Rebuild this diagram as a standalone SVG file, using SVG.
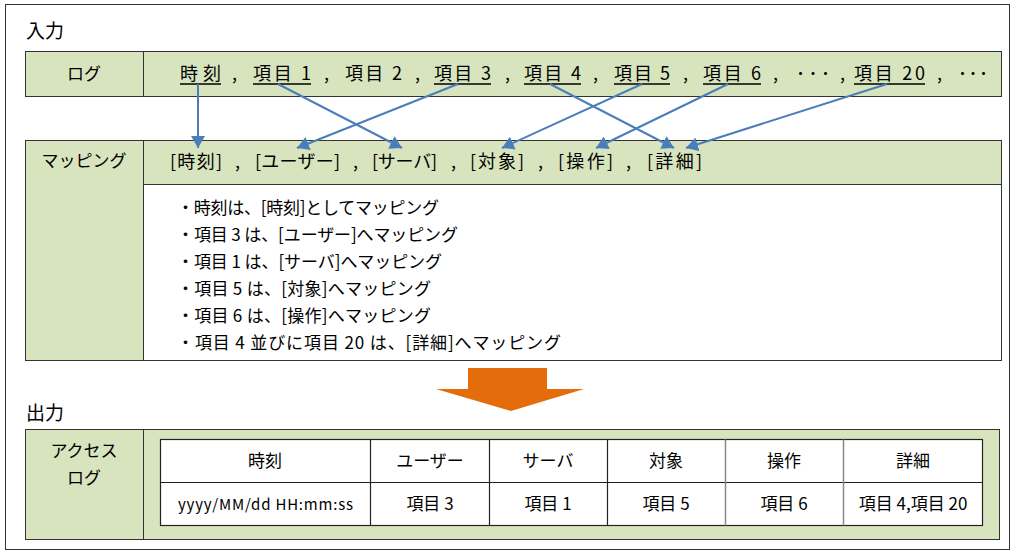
<svg xmlns="http://www.w3.org/2000/svg" width="1027" height="555" viewBox="0 0 1027 555">
<style>
text{font-family:"Noto Sans CJK JP","Liberation Sans",sans-serif;fill:#000;font-size:17px}
.g{fill:#d7e4bd;stroke:#333;stroke-width:1}
.w{fill:#fff;stroke:#333;stroke-width:1}
.c{text-anchor:middle}
.h{font-size:19px}
.b{font-size:18px}
.ul{stroke:#000;stroke-width:1.3}
.con{stroke:#4a7ebb;stroke-width:2;fill:none;marker-end:url(#ah)}
.tb{fill:#fff;stroke:#222;stroke-width:1.2}
.tl{stroke:#222;stroke-width:1.2}
.tl2{stroke:#888;stroke-width:1.5}
</style>
<defs>
<marker id="ah" markerUnits="userSpaceOnUse" markerWidth="16" markerHeight="14" refX="12" refY="7" orient="auto">
<path d="M0,0 L12,7 L0,14 Z" fill="#4a7ebb"/>
</marker>
</defs>
<rect x="0" y="0" width="1027" height="555" fill="#fff"/>
<rect x="5.5" y="4.5" width="1004" height="545" fill="#fff" stroke="#333" stroke-width="1"/>
<text id="input-label" x="26" y="38" class="h">入力</text>
<g id="log">
<rect x="25.5" y="51.5" width="976" height="45" class="g"/>
<line x1="143.5" y1="51.5" x2="143.5" y2="96.5" stroke="#333"/>
<text x="84" y="80" class="c">ログ</text>
<text x="180" y="80" class="b" textLength="41">時刻</text>
<text x="232" y="80" class="b">,</text>
<text x="253" y="80" class="b" textLength="58">項目 1</text>
<text x="324" y="80" class="b">,</text>
<text x="345" y="80" class="b" textLength="57">項目 2</text>
<text x="415" y="80" class="b">,</text>
<text x="434" y="80" class="b" textLength="57">項目 3</text>
<text x="505" y="80" class="b">,</text>
<text x="524" y="80" class="b" textLength="57">項目 4</text>
<text x="593" y="80" class="b">,</text>
<text x="614" y="80" class="b" textLength="56">項目 5</text>
<text x="683" y="80" class="b">,</text>
<text x="703" y="80" class="b" textLength="58">項目 6</text>
<text x="773" y="80" class="b">,</text>
<text x="796" y="80" class="b" textLength="34">･･･</text>
<text x="840" y="80" class="b">,</text>
<text x="854" y="80" class="b" textLength="71">項目 20</text>
<text x="937" y="80" class="b">,</text>
<text x="958" y="80" class="b" textLength="30">･･･</text>
<line x1="180" y1="84" x2="221" y2="84" class="ul"/>
<line x1="253" y1="84" x2="311" y2="84" class="ul"/>
<line x1="434" y1="84" x2="491" y2="84" class="ul"/>
<line x1="524" y1="84" x2="581" y2="84" class="ul"/>
<line x1="614" y1="84" x2="670" y2="84" class="ul"/>
<line x1="703" y1="84" x2="761" y2="84" class="ul"/>
<line x1="854" y1="84" x2="925" y2="84" class="ul"/>
</g>
<g id="mapping">
<rect x="25.5" y="140.5" width="118" height="220" class="g"/>
<rect x="143.5" y="140.5" width="858" height="44" class="g"/>
<rect x="143.5" y="184.5" width="858" height="176" class="w"/>
<text x="84" y="167" class="c">マッピング</text>
<text x="170" y="168" class="b" textLength="52">[時刻]</text>
<text x="235" y="168" class="b">,</text>
<text x="255" y="168" class="b" textLength="85">[ユーザー]</text>
<text x="353" y="168" class="b">,</text>
<text x="372" y="168" class="b" textLength="65">[サーバ]</text>
<text x="451" y="168" class="b">,</text>
<text x="470" y="168" class="b" textLength="54">[対象]</text>
<text x="538" y="168" class="b">,</text>
<text x="558" y="168" class="b" textLength="55">[操作]</text>
<text x="626" y="168" class="b">,</text>
<text x="647" y="168" class="b" textLength="55">[詳細]</text>
<text x="177" y="214" textLength="262">・時刻は、[時刻]としてマッピング</text>
<text x="177" y="241" textLength="281">・項目 3 は、[ユーザー]へマッピング</text>
<text x="177" y="268" textLength="265">・項目 1 は、[サーバ]へマッピング</text>
<text x="177" y="295" textLength="254">・項目 5 は、[対象]へマッピング</text>
<text x="177" y="322" textLength="254">・項目 6 は、[操作]へマッピング</text>
<text x="177" y="349" textLength="384">・項目 4 並びに項目 20 は、[詳細]へマッピング</text>
</g>
<g id="connectors">
<line x1="198" y1="84" x2="198" y2="148" class="con"/>
<line x1="278" y1="84" x2="402" y2="148" class="con"/>
<line x1="458" y1="84" x2="297" y2="148" class="con"/>
<line x1="550" y1="84" x2="674" y2="148" class="con"/>
<line x1="642" y1="84" x2="502" y2="148" class="con"/>
<line x1="728" y1="84" x2="596" y2="148" class="con"/>
<line x1="887" y1="84" x2="686" y2="148" class="con"/>
</g>
<g id="flow-arrow">
<polygon points="468,368 547,368 547,389 584,389 511,411 436,389 468,389" fill="#e46c0a"/>
</g>
<text id="output-label" x="26" y="420" class="h">出力</text>
<g id="access-log">
<rect x="25.5" y="429.5" width="974" height="110" class="g"/>
<line x1="143.5" y1="429.5" x2="143.5" y2="539.5" stroke="#333"/>
<text x="84" y="457" class="c">アクセス</text>
<text x="84" y="484" class="c">ログ</text>
<rect x="160.5" y="439.5" width="822" height="86" class="tb"/>
<line x1="160.5" y1="482.5" x2="982.5" y2="482.5" class="tl"/>
<line x1="370.5" y1="439.5" x2="370.5" y2="525.5" class="tl"/>
<line x1="489.5" y1="439.5" x2="489.5" y2="525.5" class="tl"/>
<line x1="607.5" y1="439.5" x2="607.5" y2="525.5" class="tl"/>
<line x1="725.5" y1="439.5" x2="725.5" y2="525.5" class="tl2"/>
<line x1="843.5" y1="439.5" x2="843.5" y2="525.5" class="tl2"/>
<text x="265" y="467" class="c">時刻</text>
<text x="430" y="467" class="c">ユーザー</text>
<text x="548" y="467" class="c">サーバ</text>
<text x="666" y="467" class="c">対象</text>
<text x="784" y="467" class="c">操作</text>
<text x="913" y="467" class="c">詳細</text>
<text x="178" y="510" textLength="175" style="font-size:15px">yyyy/MM/dd HH:mm:ss</text>
<text x="430" y="510" class="c">項目 3</text>
<text x="548" y="510" class="c">項目 1</text>
<text x="666" y="510" class="c">項目 5</text>
<text x="784" y="510" class="c">項目 6</text>
<text x="913" y="510" class="c">項目 4,項目 20</text>
</g>
</svg>
